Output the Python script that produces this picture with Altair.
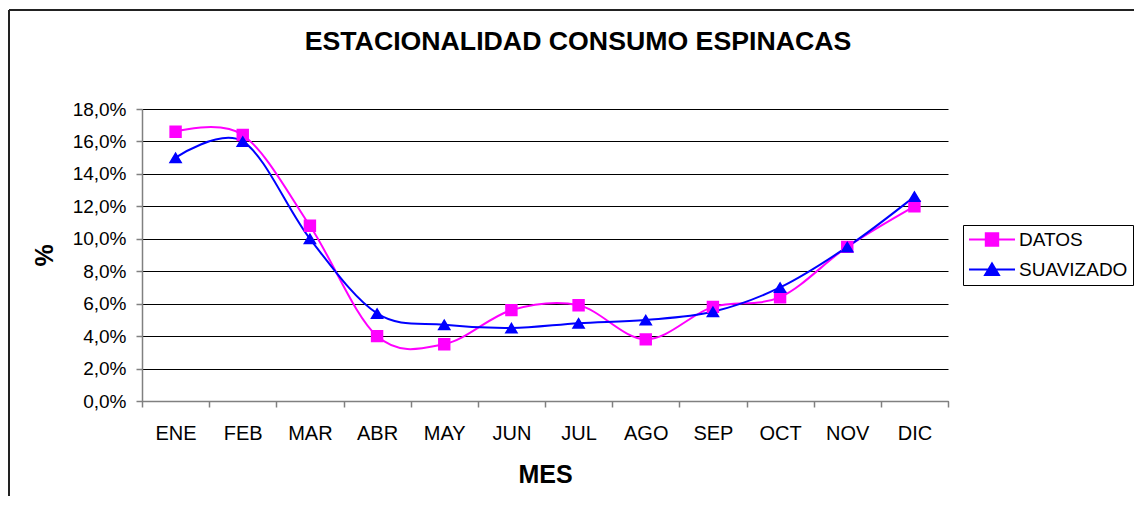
import altair as alt
import pandas as pd

meses = ["ENE", "FEB", "MAR", "ABR", "MAY", "JUN", "JUL", "AGO", "SEP", "OCT", "NOV", "DIC"]
datos = [16.6, 16.4, 10.8, 4.0, 3.5, 5.6, 5.9, 3.8, 5.8, 6.4, 9.5, 12.0]
suavizado = [15.0, 16.0, 10.0, 5.4, 4.7, 4.5, 4.8, 5.0, 5.5, 7.0, 9.5, 12.6]
series = ["DATOS", "SUAVIZADO"]
colores = ["#FF00FF", "#0000FF"]
y_ticks = [0, 2, 4, 6, 8, 10, 12, 14, 16, 18]

rows = []
for i, m in enumerate(meses):
    rows.append({"mes": m, "serie": series[0], "valor": datos[i] / 100, "orden": 0})
    rows.append({"mes": m, "serie": series[1], "valor": suavizado[i] / 100, "orden": 1})
df = pd.DataFrame(rows)

FONT = "Liberation Sans, Arial, sans-serif"

# marker shapes (line segment through marker is only visible in legend, where stroke is applied)
sq_path = "M-1,0H1M-0.27,-0.27H0.27V0.27H-0.27Z"
tri_path = "M-1,0H1M0,-0.26L0.3,0.24H-0.3Z"

leg = alt.Legend(
    title=None,
    orient="none",
    legendX=821,
    legendY=116,
    strokeColor="#000000",
    fillColor="#FFFFFF",
    padding=5,
    labelFont=FONT,
    labelFontSize=19,
    labelColor="#000000",
    labelOffset=3,
    symbolSize=2116,
    symbolStrokeWidth=2,
    symbolStrokeColor={"expr": "scale('color', datum.value)"},
    clipHeight=19,
    rowPadding=10,
    symbolOpacity=1,
)

x_enc = alt.X(
    "mes:N",
    sort=meses,
    bandPosition=0.5,
    scale=alt.Scale(type="band", paddingInner=0, paddingOuter=0),
    title="MES",
    axis=alt.Axis(
        tickBand="extent",
        labelAngle=0,
        labelFontSize=20,
        labelPadding=16,
        labelBaseline="top",
        tickSize=6,
        grid=False,
        titleFontSize=25,
        titleFontWeight="bold",
        titleY=73,
        titleBaseline="middle",
    ),
)
y_enc = alt.Y(
    "valor:Q",
    scale=alt.Scale(domain=[0, 0.18], nice=False),
    title="%",
    axis=alt.Axis(
        values=[v / 100 for v in y_ticks],
        labelExpr="replace(format(datum.value, '.1%'), '.', ',')",
        labelFontSize=19,
        labelPadding=10,
        tickSize=6,
        grid=True,
        titleFontSize=25,
        titleFontWeight="bold",
        titleX=-98,
        titleY=146,
        titleAngle=270,
        titleBaseline="middle",
        titleAlign="center",
    ),
)
color_enc = alt.Color("serie:N", scale=alt.Scale(domain=series, range=colores), legend=leg)
shape_enc = alt.Shape("serie:N", scale=alt.Scale(domain=series, range=[sq_path, tri_path]), legend=leg)

base = alt.Chart(df)
one = alt.Chart(pd.DataFrame({"k": [0]}))

# outer chart frame (top and left edges; right/bottom lie outside the picture)
frame_top = one.mark_rule(stroke="#222222", strokeWidth=2, clip=False).encode(
    x=alt.value(-133), x2=alt.value(1100), y=alt.value(-99)
)
frame_left = one.mark_rule(stroke="#222222", strokeWidth=2, clip=False).encode(
    x=alt.value(-133), y=alt.value(-99), y2=alt.value(500)
)

lines = base.mark_line(interpolate="cardinal", strokeWidth=2).encode(
    x=x_enc, y=y_enc, color=color_enc
)
points = base.mark_point(filled=True, size=2116, opacity=1).encode(
    x=x_enc, y=y_enc, color=color_enc, shape=shape_enc, order=alt.Order("orden:Q")
)

chart = alt.layer(frame_top, frame_left, lines, points).properties(
    width=806,
    height=292,
    autosize=alt.AutoSizeParams(type="none"),
    padding={"left": 134, "top": 101, "right": 186, "bottom": 95},
    title=alt.TitleParams(
        "ESTACIONALIDAD CONSUMO ESPINACAS",
        font=FONT,
        fontSize=26.7,
        fontWeight="bold",
        color="#000000",
        anchor="middle",
        baseline="alphabetic",
        dx=33,
        dy=68,
        offset=0,
    ),
).configure_view(stroke=None).configure_axis(
    labelFont=FONT,
    titleFont=FONT,
    labelColor="#000000",
    titleColor="#000000",
    domainColor="#808080",
    domainWidth=1.5,
    tickColor="#808080",
    tickWidth=1.5,
    gridColor="#000000",
    gridWidth=1,
    gridOpacity=1,
)

chart.save("out.html", embed_options={"renderer": "svg", "actions": False})
